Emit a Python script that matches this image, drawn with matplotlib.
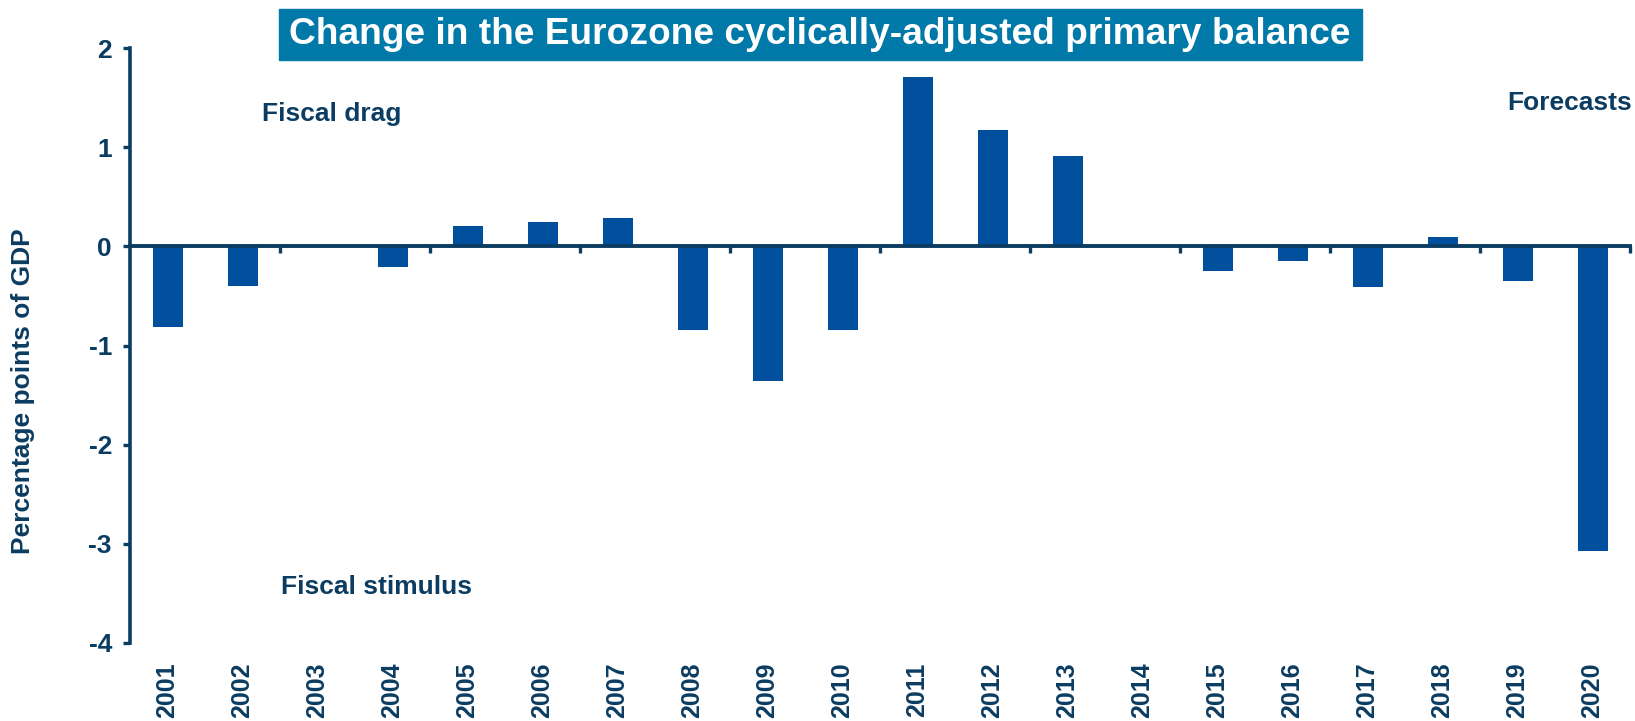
import numpy as np
import matplotlib
matplotlib.use("Agg")
import matplotlib.pyplot as plt
from matplotlib.patches import Rectangle

# -----------------------------------------
# DATA
# -----------------------------------------
years = ["2001", "2002", "2003", "2004", "2005", "2006", "2007", "2008", "2009", "2010",
         "2011", "2012", "2013", "2014", "2015", "2016", "2017", "2018", "2019", "2020"]
change = [-0.81, -0.40, 0.0, -0.21, 0.21, 0.25, 0.29, -0.84, -1.36, -0.84,
          1.71, 1.17, 0.91, 0.01, -0.25, -0.15, -0.41, 0.09, -0.35, -3.07]
y_ticks = [2, 1, 0, -1, -2, -3, -4]

title = "Change in the Eurozone cyclically-adjusted primary balance"
y_label = "Percentage points of GDP"

# -----------------------------------------
# STYLE
# -----------------------------------------
bar_col = "#00509E"
navy = "#0B3C61"
title_bg = "#0078A8"
plt.rcParams["font.family"] = ["Liberation Sans", "DejaVu Sans"]
plt.rcParams["font.weight"] = "bold"
plt.rcParams["axes.unicode_minus"] = False

W, H = 1635, 721
fig = plt.figure(figsize=(W / 100, H / 100), dpi=100)
ax = fig.add_axes([130 / W, 78 / H, 1500 / W, 595 / H])

x = np.arange(len(years))
ax.bar(x, change, width=0.4, color=bar_col, zorder=2)

ax.set_xlim(-0.5, len(years) - 0.5)
ax.set_ylim(-4, 2)

# spines
for s in ["top", "right"]:
    ax.spines[s].set_visible(False)
ax.spines["left"].set_color(navy)
ax.spines["left"].set_linewidth(2.6)
ax.spines["bottom"].set_position(("data", 0))
ax.spines["bottom"].set_color(navy)
ax.spines["bottom"].set_linewidth(2.8)
ax.spines["bottom"].set_zorder(3)

# y axis
ax.set_yticks(y_ticks)
ax.tick_params(axis="y", direction="out", length=5, width=2.4, color=navy,
               labelsize=19, labelcolor=navy, pad=8)
for lab in ax.get_yticklabels():
    lab.set_fontweight("bold")
fig.text(23 / W, 1 - 391 / H, y_label, rotation=90, ha="center", va="center",
         fontsize=19, color=navy, fontweight="bold")

# x ticks at zero line, every second category boundary
ax.set_xticks(np.arange(1.5, len(years), 2))
ax.set_xticklabels([])
ax.tick_params(axis="x", direction="out", length=5, width=2.4, color=navy)

# year labels at the bottom
sec = ax.secondary_xaxis("bottom")
sec.set_xticks(x)
sec.set_xticklabels(years, rotation=90, fontsize=18, fontweight="bold", color=navy)
sec.tick_params(length=0, pad=14)
sec.spines["bottom"].set_visible(False)

# annotations
fig.text(262 / W, 1 - 114 / H, "Fiscal drag", fontsize=19, color=navy,
         fontweight="bold", va="center", ha="left")
fig.text(281 / W, 1 - 587 / H, "Fiscal stimulus", fontsize=19, color=navy,
         fontweight="bold", va="center", ha="left")
fig.text(1632 / W, 1 - 103 / H, "Forecasts", fontsize=19, color=navy,
         fontweight="bold", va="center", ha="right")

# title box
fig.patches.append(Rectangle((279 / W, 1 - 60 / H), 1083 / W, 51 / H,
                             transform=fig.transFigure, color=title_bg, zorder=0))
fig.text(820 / W, 1 - 35 / H, title, ha="center", va="center",
         fontsize=26.7, color="white", fontweight="bold")

fig.savefig("out.png", dpi=100)
